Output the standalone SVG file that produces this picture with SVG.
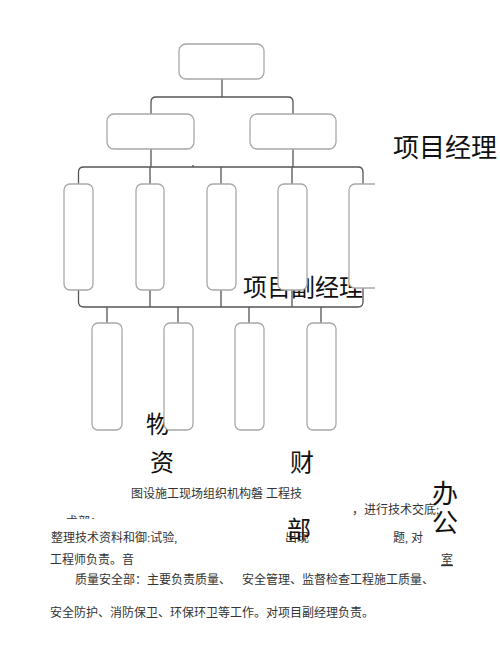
<svg xmlns="http://www.w3.org/2000/svg" width="500" height="666" viewBox="0 0 500 666">
<defs>
<style>
.box{fill:#fff;stroke:#a8a8a8;stroke-width:1.3}
.ln{fill:none;stroke:#555;stroke-width:1.3}
.big{font-family:"Noto Sans CJK SC",sans-serif;fill:#111}
.body{font-family:"Liberation Serif","Noto Sans CJK SC",serif;font-size:12px;fill:#333}
</style>
<clipPath id="c5"><rect x="340" y="170" width="35" height="130"/></clipPath>
<clipPath id="cfrag"><rect x="60" y="513" width="80" height="6"/></clipPath>
</defs>
<rect width="500" height="666" fill="#fff"/>
<text class="big" x="393" y="157" font-size="26">项目经理</text>
<text class="big" x="243" y="296" font-size="24">项目副经理</text>
<text class="big" x="146" y="433" font-size="24">物</text>
<g id="connectors">
<path class="ln" d="M222 79V97"/>
<path class="ln" d="M151 114V102Q151 97 156 97H288Q293 97 293 102V114"/>
<path class="ln" d="M151 149V167M293 149V167"/>
<path class="ln" d="M78.5 184V172Q78.5 167 84 167H358Q363 167 363 172V184"/>
<path class="ln" d="M150 167V184M221 167V184M292 167V184M193 165V167"/>
<path class="ln" d="M78.5 290V302Q78.5 307 84 307H358Q363 307 363 302V288"/>
<path class="ln" d="M150 290V307M221 290V307M292 290V307"/>
<path class="ln" d="M107 307V323M178 307V323M249 307V323M321 307V323"/>
</g>
<g id="n-top"><rect class="box" x="179" y="44" width="85" height="35" rx="7"/></g>
<g id="n-l2a"><rect class="box" x="107" y="114" width="87" height="35" rx="7"/></g>
<g id="n-l2b"><rect class="box" x="250" y="114" width="86" height="35" rx="7"/></g>
<g id="n-l3a"><rect class="box" x="64" y="184" width="29" height="106" rx="6"/></g>
<g id="n-l3b"><rect class="box" x="136" y="184" width="28" height="106" rx="6"/></g>
<g id="n-l3c"><rect class="box" x="207" y="184" width="29" height="106" rx="6"/></g>
<g id="n-l3d"><rect class="box" x="278" y="184" width="29" height="106" rx="6"/></g>
<g id="n-l3e" clip-path="url(#c5)"><rect class="box" x="349" y="184" width="34" height="104" rx="6"/></g>
<g id="n-l4a"><rect class="box" x="92" y="323" width="30" height="107" rx="6"/></g>
<g id="n-l4b"><rect class="box" x="164" y="323" width="29" height="107" rx="6"/></g>
<g id="n-l4c"><rect class="box" x="235" y="323" width="29" height="107" rx="6"/></g>
<g id="n-l4d"><rect class="box" x="307" y="323" width="29" height="107" rx="6"/></g>
<text class="big" x="150" y="471" font-size="24">资</text>
<text class="big" x="290" y="471" font-size="24">财</text>
<text class="body" x="131" y="498">图设施工现场组织机构磐 工程技</text>
<text class="body" x="66" y="526" clip-path="url(#cfrag)">术部：</text>
<text class="body" x="352" y="514">，进行技术交底;</text>
<text class="body" x="51" y="542">整理技术资料和御:试验,</text>
<text class="body" x="285" y="542">出现</text>
<text class="body" x="393" y="542">题, 对</text>
<text class="body" x="50" y="564">工程师负责。音</text>
<text class="body" x="441" y="564" text-decoration="underline">室</text>
<text class="body" x="75" y="584">质量安全部：主要负责质量、</text>
<text class="body" x="242" y="584">安全管理、监督检查工程施工质量、</text>
<text class="body" x="50" y="617">安全防护、消防保卫、环保环卫等工作。对项目副经理负责。</text>
<text class="big" x="287" y="538" font-size="24">部</text>
<text class="big" x="432" y="503" font-size="26">办</text>
<text class="big" x="432" y="532" font-size="26">公</text>
</svg>
